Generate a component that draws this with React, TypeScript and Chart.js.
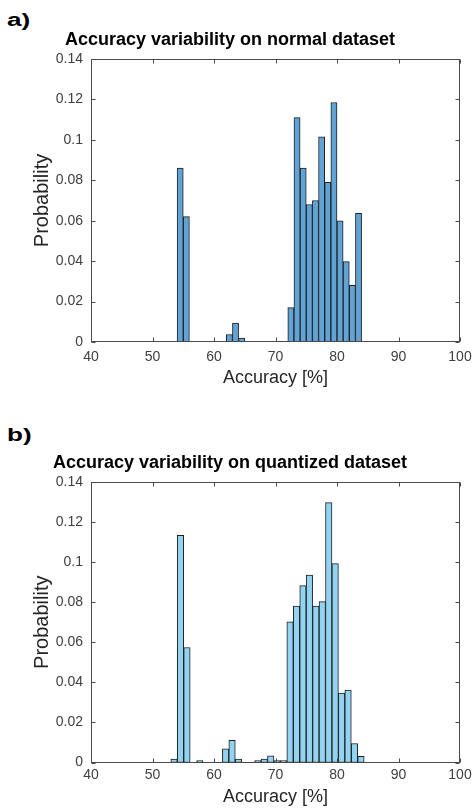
import React, { useEffect, useRef } from "react";
import { Chart, registerables } from "chart.js";

Chart.register(...registerables);

const FONT = '"Liberation Sans", Arial, Helvetica, sans-serif';

// Axis ticks
const xTicks = [40, 50, 60, 70, 80, 90, 100];
const xTickLabels = ["40", "50", "60", "70", "80", "90", "100"];
const yTicks = [0, 0.02, 0.04, 0.06, 0.08, 0.1, 0.12, 0.14];
const yTickLabels = ["0", "0.02", "0.04", "0.06", "0.08", "0.1", "0.12", "0.14"];

// Panel a) normal dataset: histogram bins (left edge + width) and probabilities
const normalBinStart = 54;
const normalBinWidth = 1;
const normalProb = [
  0.086, 0.062, 0, 0, 0, 0, 0, 0, 0.0037, 0.0094, 0.002, 0, 0, 0, 0, 0, 0, 0,
  0.017, 0.111, 0.086, 0.068, 0.07, 0.1015, 0.079, 0.1185, 0.06, 0.0398, 0.028, 0.0637,
];

// Panel b) quantized dataset
const quantBinStart = 52.98;
const quantBinWidth = 1.048;
const quantProb = [
  0.0017, 0.1134, 0.0574, 0, 0.001, 0, 0, 0, 0.0068, 0.0111, 0.0017, 0, 0, 0.001,
  0.0017, 0.0033, 0.001, 0.001, 0.0702, 0.0781, 0.0883, 0.0935, 0.0781, 0.0803,
  0.1297, 0.0993, 0.0347, 0.0361, 0.0095, 0.0031,
];

const framePlugin = {
  id: "matlabFrame",
  afterDraw(chart: any) {
    const { ctx, chartArea, scales } = chart;
    const L = Math.round(chartArea.left) + 0.5;
    const R = Math.round(chartArea.right) - 0.5;
    const T = Math.round(chartArea.top) + 0.5;
    const B = Math.round(chartArea.bottom) - 0.5;
    const tl = 4;
    ctx.save();
    ctx.strokeStyle = "#4a4a4a";
    ctx.lineWidth = 1;
    ctx.strokeRect(L, T, R - L, B - T);
    ctx.beginPath();
    for (const v of xTicks) {
      const px = Math.round(scales.x.getPixelForValue(v)) + 0.5;
      ctx.moveTo(px, B);
      ctx.lineTo(px, B - tl);
      ctx.moveTo(px, T);
      ctx.lineTo(px, T + tl);
    }
    for (const v of yTicks) {
      const py = Math.round(scales.y.getPixelForValue(v)) + 0.5;
      ctx.moveTo(L, py);
      ctx.lineTo(L + tl, py);
      ctx.moveTo(R, py);
      ctx.lineTo(R - tl, py);
    }
    ctx.stroke();
    ctx.restore();
  },
};

type PanelProps = {
  top: number;
  height: number;
  title: string;
  binStart: number;
  binWidth: number;
  values: number[];
  color: string;
  xAxisHeight: number;
  xTickPadding: number;
  xTitlePadBottom: number;
};

function HistPanel(p: PanelProps) {
  const ref = useRef<HTMLCanvasElement | null>(null);
  useEffect(() => {
    if (!ref.current) return;
    const data = p.values.map((v, i) => ({ x: p.binStart + (i + 0.5) * p.binWidth, y: v }));
    const chart = new Chart(ref.current, {
      type: "bar",
      data: {
        datasets: [
          {
            data,
            backgroundColor: p.color,
            borderColor: "#1f1f1f",
            borderWidth: 1,
            borderSkipped: false,
            barPercentage: 1,
            categoryPercentage: 1,
          } as any,
        ],
      },
      options: {
        animation: false,
        responsive: false,
        maintainAspectRatio: false,
        layout: { padding: { left: 0, right: 13, top: 0, bottom: 0 } },
        plugins: {
          legend: { display: false },
          tooltip: { enabled: false },
          title: {
            display: true,
            text: p.title,
            color: "#000",
            font: { family: FONT, size: 18, weight: "bold" },
            padding: { top: 9.4, bottom: 8 },
          },
        },
        scales: {
          x: {
            type: "linear",
            min: 40,
            max: 100,
            offset: false,
            grid: { display: false, drawTicks: false, offset: false },
            border: { display: false },
            afterBuildTicks: (s: any) => {
              s.ticks = xTicks.map((v) => ({ value: v }));
            },
            ticks: {
              autoSkip: false,
              maxRotation: 0,
              padding: p.xTickPadding,
              color: "#404040",
              font: { family: FONT, size: 14 },
              callback: (v: any) => xTickLabels[xTicks.indexOf(Number(v))] ?? "",
            },
            title: {
              display: true,
              text: "Accuracy [%]",
              color: "#262626",
              font: { family: FONT, size: 18 },
              padding: { top: 0, bottom: p.xTitlePadBottom },
            },
            afterFit: (s: any) => {
              s.height = p.xAxisHeight;
              s.paddingLeft = 0;
              s.paddingRight = 0;
            },
          },
          y: {
            type: "linear",
            min: 0,
            max: 0.14,
            grid: { display: false, drawTicks: false },
            border: { display: false },
            afterBuildTicks: (s: any) => {
              s.ticks = yTicks.map((v) => ({ value: v }));
            },
            ticks: {
              padding: 8,
              color: "#404040",
              font: { family: FONT, size: 14 },
              callback: (v: any) => {
                const idx = yTicks.findIndex((t) => Math.abs(t - Number(v)) < 1e-9);
                return idx >= 0 ? yTickLabels[idx] : "";
              },
            },
            title: {
              display: true,
              text: "Probability",
              color: "#262626",
              font: { family: FONT, size: 20 },
              padding: { top: 30, bottom: 0 },
            },
            afterFit: (s: any) => {
              s.width = 91;
              s.paddingTop = 0;
              s.paddingBottom = 0;
            },
          },
        },
      } as any,
      plugins: [framePlugin],
    });
    return () => chart.destroy();
  }, []);
  return (
    <canvas
      ref={ref}
      width={473}
      height={p.height}
      style={{ position: "absolute", left: 0, top: p.top, width: 473, height: p.height }}
    />
  );
}

const labelStyle: React.CSSProperties = {
  position: "absolute",
  left: 7,
  fontFamily: FONT,
  fontWeight: "bold",
  fontSize: 18,
  lineHeight: "20px",
  color: "#000",
  transform: "scaleX(1.45)",
  transformOrigin: "left top",
};

export default function App() {
  return (
    <div style={{ position: "absolute", left: 0, top: 0, width: 473, height: 811, background: "#fff", overflow: "hidden" }}>
      <div style={{ ...labelStyle, top: 10 }}>a)</div>
      <HistPanel
        top={20}
        height={380}
        title="Accuracy variability on normal dataset"
        binStart={normalBinStart}
        binWidth={normalBinWidth}
        values={normalProb}
        color="#62a3d6"
        xAxisHeight={58}
        xTickPadding={7}
        xTitlePadBottom={11.2}
      />
      <div style={{ ...labelStyle, top: 425 }}>b)</div>
      <HistPanel
        top={443}
        height={368}
        title="Accuracy variability on quantized dataset"
        binStart={quantBinStart}
        binWidth={quantBinWidth}
        values={quantProb}
        color="#93d3f2"
        xAxisHeight={48.5}
        xTickPadding={4}
        xTitlePadBottom={3.2}
      />
    </div>
  );
}
